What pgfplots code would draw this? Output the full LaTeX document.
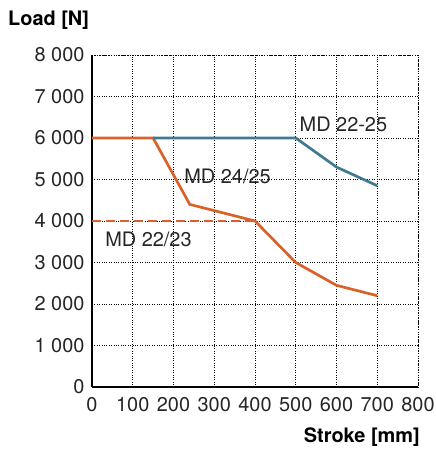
\documentclass[border=0pt]{standalone}
\usepackage{pgfplots}
\pgfplotsset{compat=1.18}
\usepackage{fontspec}
\setmainfont{TeX Gyre Heros}
\definecolor{orng}{HTML}{D9622B}
\definecolor{blu}{HTML}{3F7A91}
\begin{document}
\begin{tikzpicture}
\useasboundingbox (-92bp,-63bp) rectangle (344bp,387bp);
\begin{axis}[
  at={(0,0)}, anchor=south west,
  scale only axis, width=326bp, height=332bp,
  xmin=0, xmax=800, ymin=0, ymax=8000,
  xtick={0,100,...,800}, ytick={0,1000,...,8000},
  axis x line*=bottom, axis y line*=left,
  axis line style={line width=2.6pt, black, -},
  grid=major, major grid style={black, dotted, line width=0.7pt},
  major tick length=0pt,
  font=\fontsize{20}{24}\selectfont,
  tick label style={font=\fontsize{20}{24}\selectfont, text=black!85},
  /pgf/number format/assume math mode=true,
  /pgf/number format/1000 sep={\ },
  yticklabel style={xshift=-4bp},
  xticklabel style={yshift=-7bp},
  clip=false,
]
\draw[black, dotted, line width=0.7pt] (axis cs:0,8000) -- (axis cs:800,8000) -- (axis cs:800,0);
\addplot[orng, line width=2.7pt] coordinates {(0,6000)(150,6000)(240,4400)(400,4000)(500,3000)(600,2450)(700,2200)};
\addplot[blu, line width=2.7pt] coordinates {(150,6000)(500,6000)(600,5300)(700,4850)};
\addplot[orng, line width=2.7pt, dash pattern=on 9pt off 5pt] coordinates {(0,4000)(400,4000)};
\node[anchor=west, text=black!85] at (axis cs:501,6320) {MD 22-25};
\node[anchor=west, text=black!85] at (axis cs:218,5084) {MD 24/25};
\node[anchor=west, text=black!85] at (axis cs:24,3554) {MD 22/23};
\node[anchor=west, font=\bfseries\fontsize{20}{24}\selectfont, inner sep=0pt] at (rel axis cs:0,1) [xshift=-84bp, yshift=35bp] {Load [N]};
\node[anchor=east, font=\bfseries\fontsize{20}{24}\selectfont, inner sep=0pt] at (rel axis cs:1,0) [yshift=-50bp, xshift=2bp] {Stroke [mm]};
\end{axis}
\end{tikzpicture}
\end{document}
